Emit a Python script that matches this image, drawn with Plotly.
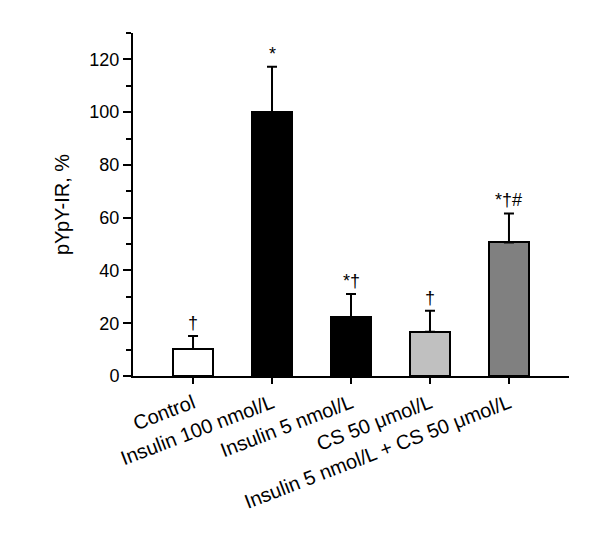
import plotly.graph_objects as go

categories = ["Control", "Insulin 100 nmol/L", "Insulin 5 nmol/L", "CS 50 μmol/L",
              "Insulin 5 nmol/L + CS 50 μmol/L"]
values = [10.2, 100.0, 22.3, 16.8, 50.6]
errors = [5.0, 17.2, 8.8, 7.9, 11.0]
significance = ["†", "*", "*†", "†", "*†#"]
bar_colors = ["#ffffff", "#000000", "#000000", "#c0c0c0", "#808080"]
y_ticks = [0, 20, 40, 60, 80, 100, 120]

FONT = "Liberation Sans, Arial, Helvetica, sans-serif"

fig = go.Figure()
fig.add_trace(go.Bar(
    x=categories,
    y=values,
    width=0.51,
    marker=dict(color=bar_colors, line=dict(color="#000000", width=2)),
    error_y=dict(type="data", symmetric=False, array=errors,
                 arrayminus=[0] * len(errors),
                 color="#000000", thickness=2, width=5),
    showlegend=False,
))

for c, v, e, s in zip(categories, values, errors, significance):
    fig.add_annotation(x=c, y=v + e, text=s, showarrow=False,
                       xref="x", yref="y", yanchor="bottom", yshift=1,
                       font=dict(family=FONT, size=18, color="#000000"))

# page body has an 8px margin, so the figure is sized/offset to compensate
fig.update_layout(
    width=592, height=545,
    margin=dict(l=125, r=31, t=25, b=177),
    paper_bgcolor="white", plot_bgcolor="white",
    font=dict(family=FONT, color="#000000"),
    bargap=0.0,
)
fig.update_xaxes(
    type="category", range=[-0.76, 4.76], automargin=False,
    showline=True, linecolor="#000000", linewidth=2,
    ticks="outside", ticklen=6, tickwidth=2, tickcolor="#000000",
    tickangle=-21, tickfont=dict(family=FONT, size=20, color="#000000"),
    showgrid=False, zeroline=False,
)
fig.update_yaxes(
    range=[0, 130], automargin=False,
    tickvals=y_ticks,
    showline=True, linecolor="#000000", linewidth=2,
    ticks="outside", ticklen=8, tickwidth=2, tickcolor="#000000",
    minor=dict(dtick=10, tick0=0, ticks="outside", ticklen=5, tickwidth=2,
               tickcolor="#000000", showgrid=False),
    tickfont=dict(family=FONT, size=18, color="#000000"),
    title=dict(text="pYpY-IR, %", font=dict(family=FONT, size=20, color="#000000"),
               standoff=14),
    showgrid=False, zeroline=False,
)

fig.write_html("out.html")
